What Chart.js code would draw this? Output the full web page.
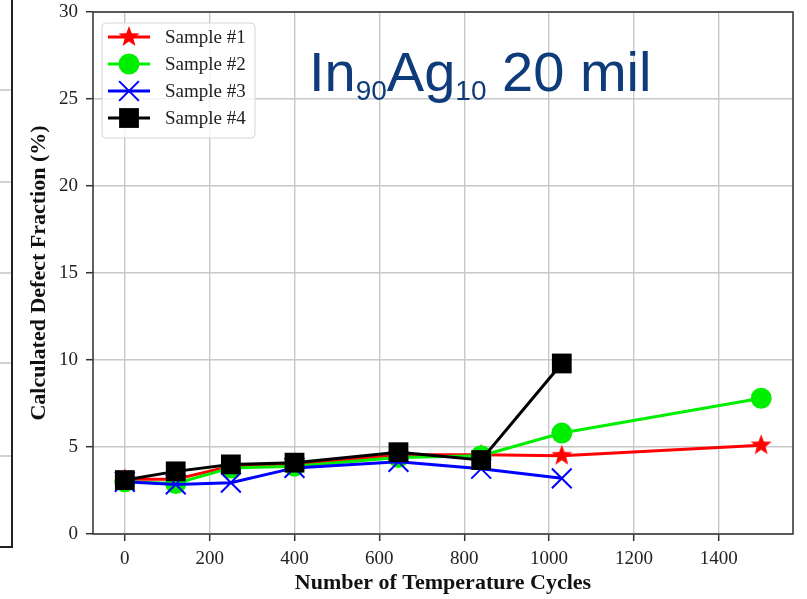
<!DOCTYPE html>
<html>
<head>
<meta charset="utf-8">
<title>Defect fraction vs temperature cycles</title>
<script src="https://cdn.jsdelivr.net/npm/chart.js@4.4.1/dist/chart.umd.min.js"></script>
<style>
  body { margin: 0; background: #fff; }
  #wrap { position: relative; width: 807px; height: 599px; }
  #alloy {
    position: absolute; left: 309px; top: 40px;
    font-family: 'Liberation Sans', Arial, sans-serif;
    font-size: 56px; line-height: 64px; color: #0e3b7a; white-space: nowrap;
  }
  #alloy span { font-size: 28px; vertical-align: -9px; }
</style>
</head>
<body>
<div id="wrap">
  <canvas id="myChart" width="807" height="599"></canvas>
  <div id="alloy">In<span>90</span>Ag<span>10</span> 20 mil</div>
</div>
<script>
// cycle counts where each sample was measured
const cycles = [0, 120, 250, 400, 645, 840, 1030, 1500];

// defect fraction (%) per sample
const sample1 = [3.15, 3.15, 3.9, 4.0, 4.55, 4.55, 4.5, 5.1];
const sample2 = [3.0, 2.9, 3.8, 3.9, 4.4, 4.5, 5.8, 7.8];
const sample3 = [3.0, 2.85, 2.95, 3.8, 4.15, 3.75, 3.2];
const sample4 = [3.1, 3.6, 4.0, 4.1, 4.7, 4.25, 9.8];

const sampleNames = ['Sample #1', 'Sample #2', 'Sample #3', 'Sample #4'];
const xTicks = [0, 200, 400, 600, 800, 1000, 1200, 1400];
const yTicks = [0, 5, 10, 15, 20, 25, 30];

const serif = "'Liberation Serif', 'Times New Roman', serif";

function toPoints(values) {
	return values.map((v, i) => ({x: cycles[i], y: v}));
}

// filled 5 point star, used as point style
function makeStar(color, outer) {
	const c = document.createElement('canvas');
	c.width = c.height = outer * 2 + 2;
	const g = c.getContext('2d');
	const cx = outer + 1, cy = outer + 1, inner = outer * 0.42;
	g.beginPath();
	for (let i = 0; i < 10; i++) {
		const r = i % 2 ? inner : outer;
		const a = -Math.PI / 2 + i * Math.PI / 5;
		g.lineTo(cx + r * Math.cos(a), cy + r * Math.sin(a));
	}
	g.closePath();
	g.fillStyle = color;
	g.fill();
	return c;
}
const star = makeStar('#ff0000', 11);

// marker for the legend rows
function drawMarker(ctx, ds, x, y) {
	ctx.fillStyle = ds.borderColor;
	ctx.strokeStyle = ds.borderColor;
	if (ds.pointStyle === 'rect') {
		const h = ds.pointRadius * Math.SQRT1_2;
		ctx.fillRect(x - h, y - h, 2 * h, 2 * h);
	} else if (ds.pointStyle === 'circle') {
		ctx.beginPath();
		ctx.arc(x, y, ds.pointRadius, 0, Math.PI * 2);
		ctx.fill();
	} else if (ds.pointStyle === 'crossRot') {
		const h = ds.pointRadius * Math.SQRT1_2;
		ctx.lineWidth = ds.pointBorderWidth;
		ctx.beginPath();
		ctx.moveTo(x - h, y - h); ctx.lineTo(x + h, y + h);
		ctx.moveTo(x - h, y + h); ctx.lineTo(x + h, y - h);
		ctx.stroke();
	} else {
		const img = ds.pointStyle;
		ctx.drawImage(img, x - img.width / 2, y - img.height / 2);
	}
}

const sampleLegend = {
	id: 'sampleLegend',
	afterDraw(chart) {
		const ctx = chart.ctx;
		const area = chart.chartArea;
		const bx = area.left + 9, by = area.top + 11, bw = 153, bh = 115;
		ctx.save();
		ctx.beginPath();
		ctx.roundRect(bx, by, bw, bh, 4);
		ctx.fillStyle = 'rgba(255,255,255,0.8)';
		ctx.fill();
		ctx.strokeStyle = '#d6d6d6';
		ctx.lineWidth = 1;
		ctx.stroke();
		chart.data.datasets.forEach((ds, i) => {
			const y = by + 14 + i * 27;
			ctx.strokeStyle = ds.borderColor;
			ctx.lineWidth = ds.borderWidth;
			ctx.beginPath();
			ctx.moveTo(bx + 6, y);
			ctx.lineTo(bx + 48, y);
			ctx.stroke();
			drawMarker(ctx, ds, bx + 27, y);
			ctx.fillStyle = '#222';
			ctx.font = '19px ' + serif;
			ctx.textBaseline = 'middle';
			ctx.fillText(ds.label, bx + 63, y + 1);
		});
		ctx.restore();
	}
};

// dark box round the plot area
const plotFrame = {
	id: 'plotFrame',
	afterDatasetsDraw(chart) {
		const {ctx, chartArea: a} = chart;
		ctx.save();
		ctx.strokeStyle = '#3a3a3a';
		ctx.lineWidth = 1.6;
		ctx.strokeRect(a.left, a.top, a.right - a.left, a.bottom - a.top);
		ctx.restore();
	}
};

// frame edge of the neighbouring panel on the left
const sidePanel = {
	id: 'sidePanel',
	beforeDraw(chart) {
		const ctx = chart.ctx;
		ctx.save();
		ctx.strokeStyle = '#c4c4c4';
		ctx.lineWidth = 1.5;
		[90, 182, 273, 363, 456].forEach(y => {
			ctx.beginPath();
			ctx.moveTo(0, y);
			ctx.lineTo(12, y);
			ctx.stroke();
		});
		ctx.strokeStyle = '#222';
		ctx.lineWidth = 2;
		ctx.beginPath();
		ctx.moveTo(12, 0);
		ctx.lineTo(12, 547);
		ctx.lineTo(0, 547);
		ctx.stroke();
		ctx.restore();
	}
};

// fixed axis boxes, no extra room for the end labels
function fitBox(scale, size) {
	if (scale.isHorizontal()) scale.height = size;
	else scale.width = size;
	scale.paddingTop = 0;
	scale.paddingBottom = 0;
	scale.paddingLeft = 0;
	scale.paddingRight = 0;
}

const datasets = [
	{
		label: sampleNames[0], data: toPoints(sample1),
		borderColor: '#ff0000', backgroundColor: '#ff0000', borderWidth: 3,
		pointStyle: star, pointRadius: 11, order: 4
	},
	{
		label: sampleNames[1], data: toPoints(sample2),
		borderColor: '#00ee00', backgroundColor: '#00ee00', borderWidth: 3,
		pointStyle: 'circle', pointRadius: 10.5, pointBorderWidth: 0, order: 3
	},
	{
		label: sampleNames[2], data: toPoints(sample3),
		borderColor: '#0000ff', backgroundColor: '#0000ff', borderWidth: 3,
		pointStyle: 'crossRot', pointRadius: 14, pointBorderWidth: 2, order: 2
	},
	{
		label: sampleNames[3], data: toPoints(sample4),
		borderColor: '#000000', backgroundColor: '#000000', borderWidth: 3,
		pointStyle: 'rect', pointRadius: 14, pointBorderWidth: 0, order: 1
	}
];

const myChart = document.getElementById('myChart');

let lineChart = new Chart(myChart, {
	type: 'line',
	data: { datasets: datasets },
	plugins: [sidePanel, plotFrame, sampleLegend],
	options: {
		responsive: false,
		animation: false,
		devicePixelRatio: 1,
		layout: { autoPadding: false, padding: { left: 0, top: 12, right: 14, bottom: 0 } },
		plugins: {
			legend: { display: false },
			tooltip: { enabled: false }
		},
		scales: {
			x: {
				type: 'linear',
				min: -75,
				max: 1575,
				afterBuildTicks: scale => { scale.ticks = xTicks.map(v => ({value: v})); },
				afterFit: scale => fitBox(scale, 65),
				border: { display: false },
				grid: { color: '#c8c8c8', lineWidth: 1.4, tickColor: '#333', tickLength: 7, tickWidth: 1.5 },
				ticks: {
					padding: 7,
					color: '#222',
					font: { family: serif, size: 19 },
					callback: v => String(v)
				},
				title: {
					display: true,
					text: 'Number of Temperature Cycles',
					color: '#111',
					font: { family: serif, size: 22, weight: 'bold' },
					padding: { top: 0, bottom: 2 }
				}
			},
			y: {
				min: 0,
				max: 30,
				afterBuildTicks: scale => { scale.ticks = yTicks.map(v => ({value: v})); },
				afterFit: scale => fitBox(scale, 93),
				border: { display: false },
				grid: { color: '#c8c8c8', lineWidth: 1.4, tickColor: '#333', tickLength: 7, tickWidth: 1.5 },
				ticks: {
					padding: 8,
					color: '#222',
					font: { family: serif, size: 19 },
					callback: v => String(v)
				},
				title: {
					display: true,
					text: 'Calculated Defect Fraction (%)',
					color: '#111',
					font: { family: serif, size: 22, weight: 'bold' },
					padding: { top: 26, bottom: 0 }
				}
			}
		}
	}
});
</script>
</body>
</html>
